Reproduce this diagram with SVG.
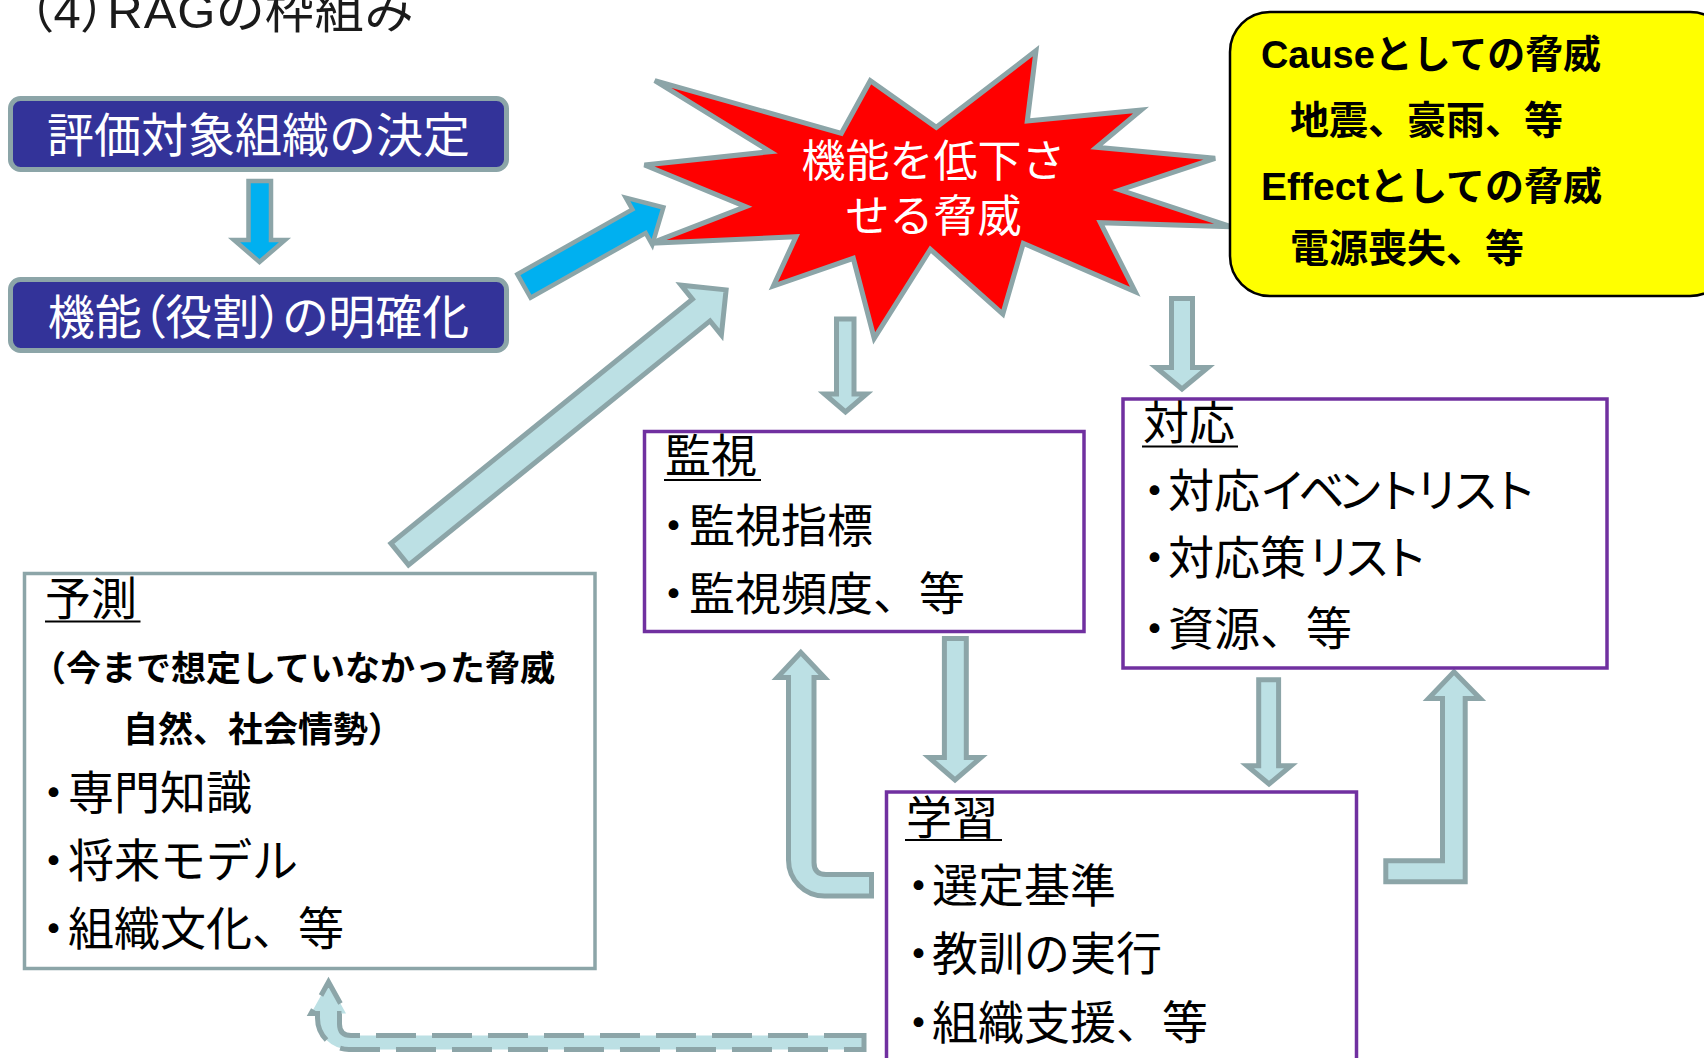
<svg xmlns="http://www.w3.org/2000/svg" width="1704" height="1058" viewBox="0 0 1704 1058">
<style>
.t{font-family:"Noto Sans CJK JP","Noto Sans CJK SC",sans-serif;}
.lat{font-family:"Liberation Sans","Noto Sans CJK JP",sans-serif;}
.body{font-size:46px;fill:#000;}
.hd{font-size:47px;fill:#fff;}
.palt{font-feature-settings:"palt" 1;}
.al{fill:#BCE0E4;stroke:#8CA5A8;stroke-width:5;stroke-linejoin:miter;}
.ab{fill:#00B0F0;stroke:#8CA5A8;stroke-width:4.5;stroke-linejoin:miter;}
.pbox{fill:#fff;stroke:#7030A0;stroke-width:3.5;}
.gbox{fill:#fff;stroke:#8CA5A8;stroke-width:3.5;}
.nbox{fill:#333399;stroke:#8CA5A8;stroke-width:5;}
.ul{stroke:#000;stroke-width:2.2;}
</style>
<rect width="1704" height="1058" fill="#fff"/>

<text id="title" class="lat palt" x="28" y="28" font-size="49" letter-spacing="1" fill="#1a1a1a">（4）RAGの枠組み</text>

<g id="connectors">
  <!-- box1 -> box2 -->
  <polygon class="ab" points="248.5,181 271,181 271,240 285,240 259.5,262 234,240 248.5,240"/>
  <!-- box2 -> threat -->
  <polygon class="ab" transform="translate(524,286) rotate(-29.4)" points="0,-13.5 132,-13.5 132,-27 160,0 132,27 132,13.5 0,13.5"/>
  <!-- predict -> threat -->
  <polygon class="al" transform="translate(399.7,554.2) rotate(-39)" points="0,-14 388,-14 388,-32 420,0 388,32 388,14 0,14"/>
  <!-- threat -> monitor -->
  <polygon class="al" points="836.5,319 854,319 854,394 866.5,394 845.5,412 824.5,394 836.5,394"/>
  <!-- threat -> respond -->
  <polygon class="al" points="1171.5,298.5 1192.5,298.5 1192.5,367.5 1208,367.5 1182,389 1156,367.5 1171.5,367.5"/>
  <!-- monitor -> learn -->
  <polygon class="al" points="944.4,638.5 966.3,638.5 966.3,757.5 981,757.5 955,780 929,757.5 944.4,757.5"/>
  <!-- respond -> learn -->
  <polygon class="al" points="1258.7,679.8 1278.6,679.8 1278.6,765.8 1291,765.8 1269,784 1247,765.8 1258.7,765.8"/>
  <!-- learn -> monitor (bent) -->
  <path class="al" d="M871.5,874.5 L826,874.5 Q814,874.5 814,862.5 L814,677.5 L824.5,677.5 L800.8,652.5 L777.3,677.5 L788.5,677.5 L788.5,860 A36 36 0 0 0 824.5,896 L871.5,896 Z"/>
  <!-- learn -> respond (bent) -->
  <path class="al" d="M1385.8,860.8 L1442.5,860.8 L1442.5,698.5 L1428.5,698.5 L1454,671.8 L1480.2,698.5 L1465.2,698.5 L1465.2,881.8 L1385.8,881.8 Z"/>
  <!-- learn -> predict (dashed) -->
  <path class="al" stroke-dasharray="40 16" d="M864,1035.5 L351,1035.5 Q339.5,1035.5 339.5,1024 L339.5,1013.5 L346,1013.5 L328.5,982 L311,1013.5 L317.5,1013.5 L317.5,1018 A31.5 31.5 0 0 0 349,1049.5 L864,1049.5 Z"/>
</g>

<g id="n-decide">
  <rect class="nbox" x="10.5" y="98.5" width="496" height="71" rx="10"/>
  <text class="t hd" x="258.5" y="152" text-anchor="middle">評価対象組織の決定</text>
</g>
<g id="n-clarify">
  <rect class="nbox" x="10.5" y="279.5" width="496" height="71" rx="10"/>
  <text class="t hd palt" x="258.5" y="334" text-anchor="middle">機能（役割）の明確化</text>
</g>

<g id="n-threat">
  <polygon fill="#FF0000" stroke="#8CA5A8" stroke-width="5" stroke-linejoin="miter" points="654.8,80.7 841.4,133.3 870.3,80.7 936.3,127.3 1036,50.7 1027.3,121 1141.2,110 1096.5,147.3 1215.1,158.3 1120.2,190 1230.9,226.7 1100.4,222.7 1135.2,291.7 1023.3,243.3 1002.8,314 930.4,249.3 874.2,338.3 853.3,258.3 773.4,286 796,236.7 650.8,243.3 745.7,206.7 644.5,165 770.3,151.7"/>
  <text class="t" font-size="44" fill="#fff" text-anchor="middle" x="933.4" y="177">機能を低下さ<tspan x="933.4" dy="55">せる脅威</tspan></text>
</g>

<g id="n-cause">
  <rect x="1230" y="12" width="500" height="284" rx="40" fill="#FFFF00" stroke="#000" stroke-width="2.5"/>
  <g class="lat" font-size="39" font-weight="bold" fill="#000">
    <text x="1261" y="68" textLength="340" lengthAdjust="spacingAndGlyphs">Causeとしての脅威</text>
    <text x="1290" y="133.5">地震、豪雨、等</text>
    <text x="1261" y="200" textLength="341" lengthAdjust="spacingAndGlyphs">Effectとしての脅威</text>
    <text x="1290" y="262">電源喪失、等</text>
  </g>
</g>

<g id="n-monitor">
  <rect class="pbox" x="644.5" y="431.5" width="439.5" height="200"/>
  <text class="t body" x="665" y="472">監視</text>
  <line class="ul" x1="664" y1="480" x2="761" y2="480"/>
  <text class="t body" x="662" y="542"><tspan class="palt">・</tspan><tspan dx="4">監視指標</tspan></text>
  <text class="t body" x="662" y="610"><tspan class="palt">・</tspan><tspan dx="4">監視頻度、等</tspan></text>
</g>

<g id="n-respond">
  <rect class="pbox" x="1123" y="399" width="484" height="269"/>
  <text class="t body" x="1143" y="439">対応</text>
  <line class="ul" x1="1142" y1="446.5" x2="1238" y2="446.5"/>
  <text class="t body" x="1143" y="507"><tspan class="palt">・</tspan><tspan dx="2">対応</tspan><tspan style="letter-spacing:-7.5px">イベントリスト</tspan></text>
  <text class="t body" x="1143" y="574"><tspan class="palt">・</tspan><tspan dx="2">対応策</tspan><tspan style="letter-spacing:-8px">リスト</tspan></text>
  <text class="t body" x="1143" y="645"><tspan class="palt">・</tspan><tspan dx="2">資源、等</tspan></text>
</g>

<g id="n-predict">
  <rect class="gbox" x="24.5" y="573.5" width="570.5" height="395"/>
  <text class="t body" x="45" y="615">予測</text>
  <line class="ul" x1="45" y1="621.5" x2="140.5" y2="621.5"/>
  <text class="t" font-size="35" font-weight="bold" x="31" y="681">（今まで想定していなかった脅威</text>
  <text class="t" font-size="35" font-weight="bold" x="123" y="742">自然、社会情勢）</text>
  <text class="t body" x="42" y="809"><tspan class="palt">・</tspan><tspan dx="3">専門知識</tspan></text>
  <text class="t body" x="42" y="877"><tspan class="palt">・</tspan><tspan dx="3">将来モデル</tspan></text>
  <text class="t body" x="42" y="945"><tspan class="palt">・</tspan><tspan dx="3">組織文化、等</tspan></text>
</g>

<g id="n-learn">
  <rect class="pbox" x="886.5" y="792" width="470" height="290"/>
  <text class="t body" x="906" y="834">学習</text>
  <line class="ul" x1="905" y1="840" x2="1002" y2="840"/>
  <text class="t body" x="907" y="902"><tspan class="palt">・</tspan><tspan dx="2">選定基準</tspan></text>
  <text class="t body" x="907" y="970"><tspan class="palt">・</tspan><tspan dx="2">教訓の実行</tspan></text>
  <text class="t body" x="907" y="1039"><tspan class="palt">・</tspan><tspan dx="2">組織支援、等</tspan></text>
</g>
</svg>
